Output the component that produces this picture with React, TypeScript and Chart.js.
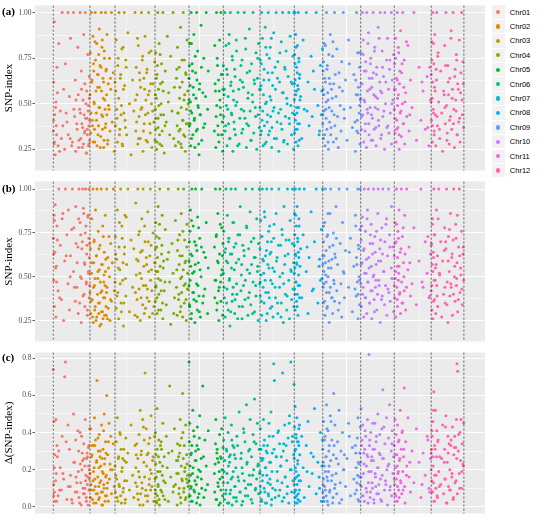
import { useEffect, useRef } from 'react';
import { Chart, registerables } from 'chart.js';

Chart.register(...registerables);

const chromosomes = ['Chr01', 'Chr02', 'Chr03', 'Chr04', 'Chr05', 'Chr06', 'Chr07', 'Chr08', 'Chr09', 'Chr10', 'Chr11', 'Chr12'];
const chrColors = ['#F8766D', '#DE8C00', '#B79F00', '#7CAE00', '#00BA38', '#00C08B', '#00BFC4', '#00B4F0', '#619CFF', '#C77CFF', '#F564E3', '#FF64B0'];
// chromosome lengths (Mb)
const chrLengths = [25.0, 17.1, 27.3, 23.2, 23.4, 25.0, 23.4, 19.4, 25.9, 22.9, 25.2, 22.3];

// SNP positions, % along each chromosome
const snpPos = [
  [0, 1, 2, 3, 4, 5, 7, 8, 10, 13, 15, 19, 22, 24, 28, 31, 33, 37, 40, 41, 44, 47, 52, 55, 56, 60, 61, 64, 67, 68, 70, 73, 74, 76, 79, 80, 81, 83, 85, 86, 87, 88, 90, 91, 93, 94, 96, 97, 98, 99,
    1, 3, 6, 9, 11, 17, 26, 35, 46, 50, 58, 62, 65, 69, 72, 75, 77, 78, 82, 84, 86, 89, 90, 92, 93, 95, 96, 97, 98, 99],
  [0, 2, 3, 6, 7, 9, 12, 13, 15, 17, 18, 21, 22, 25, 27, 28, 31, 33, 34, 37, 39, 40, 43, 45, 46, 49, 51, 52, 55, 57, 59, 61, 62, 65, 67, 68, 71, 73, 76, 78, 80, 83, 86, 89, 93, 97,
    4, 8, 10, 14, 16, 19, 20, 24, 26, 30, 32, 35, 36, 38, 41, 44, 47, 48, 50, 53, 54, 56, 58, 60, 63, 64, 66, 70, 74, 82],
  [0, 1, 3, 4, 6, 7, 9, 10, 12, 14, 15, 17, 19, 21, 23, 25, 27, 29, 32, 36, 40, 44, 47, 50, 52, 53, 55, 57, 58, 60, 61, 63, 64, 66, 67, 69, 70, 72, 73, 75, 77, 78, 80, 82, 84, 86, 88, 90, 92, 95, 97, 99,
    2, 5, 8, 11, 13, 16, 18, 20, 22, 24, 26, 28, 51, 54, 56, 59, 62, 65, 68, 71, 74, 76, 79, 81, 83, 85, 87, 89, 91, 94],
  [0, 1, 2, 3, 5, 6, 8, 9, 11, 12, 14, 16, 17, 19, 21, 23, 24, 27, 30, 33, 36, 39, 43, 46, 50, 53, 57, 60, 63, 65, 66, 68, 69, 71, 72, 74, 75, 77, 78, 80, 81, 83, 84, 86, 87, 89, 90, 92, 94, 97,
    1, 2, 4, 4, 6, 7, 9, 10, 13, 15, 18, 20, 22, 25, 29, 40, 55, 64, 67, 70, 73, 76, 79, 82, 85, 88, 91, 93, 95, 96],
  [0, 1, 2, 4, 5, 6, 8, 9, 11, 12, 14, 15, 17, 19, 20, 22, 24, 25, 27, 29, 31, 33, 35, 37, 40, 43, 46, 50, 54, 56, 74, 75, 77, 78, 80, 81, 83, 84, 86, 87, 89, 90, 92, 93, 95, 96, 98, 99,
    0, 1, 3, 3, 5, 7, 7, 10, 13, 16, 18, 21, 23, 26, 28, 30, 32, 36, 42, 48, 76, 79, 82, 85, 88, 91, 94, 97],
  [0, 1, 3, 4, 5, 7, 8, 10, 11, 13, 14, 16, 18, 19, 21, 22, 24, 26, 27, 29, 31, 33, 35, 37, 40, 43, 46, 49, 51, 53, 55, 57, 59, 61, 63, 65, 67, 69, 71, 73, 75, 77, 79, 81, 83, 85, 87, 89, 91, 93, 95, 96, 98, 99,
    2, 6, 9, 12, 15, 17, 20, 23, 25, 28, 30, 32, 34, 36, 39, 42, 45, 48, 50, 52, 56, 60, 64, 68, 72, 76, 80, 84, 88, 94],
  [0, 1, 2, 3, 5, 6, 7, 9, 10, 12, 13, 15, 16, 18, 20, 22, 24, 26, 28, 30, 32, 34, 36, 38, 40, 42, 45, 47, 50, 52, 55, 57, 60, 62, 64, 66, 68, 70, 72, 74, 76, 78, 80, 82, 84, 86, 88, 90, 92, 94, 95, 96, 98, 99,
    1, 4, 4, 8, 11, 14, 17, 19, 21, 23, 25, 27, 29, 31, 33, 35, 37, 41, 44, 48, 51, 54, 58, 61, 65, 69, 73, 79, 85, 91],
  [0, 1, 1, 2, 3, 4, 5, 6, 7, 8, 9, 10, 11, 12, 13, 14, 15, 16, 18, 19, 22, 26, 31, 35, 42, 48, 52, 59, 63, 71, 77, 83, 87, 92, 95, 99,
    0, 2, 3, 4, 5, 6, 8, 10, 12, 14, 16, 17, 18, 20, 45, 67, 89, 97],
  [0, 1, 2, 3, 4, 6, 7, 8, 10, 11, 12, 14, 15, 17, 18, 20, 21, 23, 24, 26, 28, 29, 31, 32, 35, 37, 39, 41, 43, 46, 48, 50, 52, 54, 57, 60, 64, 68, 73, 78, 82, 86, 88, 89, 91, 92, 93, 94, 96, 97, 98, 99,
    0, 1, 2, 3, 5, 5, 7, 9, 9, 11, 13, 14, 16, 17, 19, 22, 25, 27, 30, 33, 36, 44, 56, 70, 85, 87, 90, 93, 95, 97],
  [0, 1, 2, 4, 5, 6, 8, 9, 11, 12, 14, 15, 17, 18, 20, 21, 23, 25, 26, 28, 30, 31, 33, 35, 37, 38, 40, 42, 44, 46, 48, 51, 52, 54, 57, 58, 60, 63, 64, 66, 68, 71, 72, 74, 77, 78, 80, 83, 84, 86, 88, 91, 92, 94, 96, 98,
    1, 3, 7, 10, 13, 16, 19, 22, 24, 27, 29, 32, 34, 36, 39, 41, 43, 45, 47, 50, 53, 55, 59, 62, 65, 69, 75, 81, 87, 93],
  [0, 1, 2, 3, 4, 5, 6, 7, 8, 9, 10, 12, 13, 14, 16, 17, 19, 20, 22, 23, 25, 27, 28, 31, 34, 37, 40, 44, 48, 53, 60, 67, 72, 78, 84, 89, 94, 98,
    0, 2, 4, 6, 8, 9, 11, 11, 13, 15, 18, 21, 24, 26, 29, 33, 42, 75, 91, 96],
  [0, 1, 2, 3, 4, 5, 6, 8, 9, 10, 11, 13, 14, 16, 17, 19, 20, 23, 26, 29, 32, 35, 38, 41, 43, 45, 47, 49, 51, 53, 55, 57, 59, 61, 63, 65, 67, 69, 71, 73, 75, 77, 79, 81, 84, 86, 88, 90, 93, 95, 97, 99,
    0, 2, 4, 5, 7, 7, 9, 12, 15, 18, 21, 25, 40, 42, 44, 48, 52, 56, 60, 64, 68, 72, 76, 78, 80, 83, 87, 91, 94, 98],
];

// panel (a): SNP-index x100
const snpIndexA = [
  [35, 62, 28, 95, 44, 22, 51, 38, 70, 27, 83, 46, 31, 100, 58, 25, 72, 40, 100, 33, 54, 86, 29, 100, 47, 63, 24, 39, 81, 55, 30, 100, 45, 68, 26, 37, 52, 88, 34, 61, 100, 42, 23, 57, 36, 77, 49, 28, 65, 41,
    41, 29, 48, 33, 56, 24, 38, 45, 31, 27, 43, 52, 36, 26, 47, 31, 58, 39, 28, 44, 35, 50, 23, 42, 33, 46, 27, 38, 53, 30],
  [55, 78, 34, 100, 62, 41, 87, 29, 68, 50, 36, 100, 74, 45, 83, 27, 59, 66, 38, 91, 48, 71, 32, 100, 57, 85, 43, 64, 26, 79, 52, 37, 100, 69, 44, 88, 30, 61, 47, 75, 35, 58, 100, 40, 67, 24,
    45, 63, 38, 72, 51, 29, 84, 57, 41, 66, 33, 77, 48, 59, 26, 70, 44, 81, 36, 53, 62, 30, 75, 47, 39, 68, 55, 28, 49, 64],
  [62, 38, 85, 47, 29, 71, 53, 100, 36, 66, 44, 80, 27, 58, 100, 41, 74, 33, 89, 50, 22, 63, 46, 100, 35, 70, 55, 28, 82, 43, 67, 31, 59, 100, 48, 76, 24, 64, 39, 87, 52, 30, 69, 45, 100, 57, 34, 79, 26, 61, 40, 73,
    57, 42, 75, 33, 64, 49, 28, 81, 45, 60, 37, 70, 52, 40, 86, 31, 63, 47, 74, 35, 58, 44, 67, 29, 55, 78, 39, 61, 50, 46],
  [30, 55, 78, 42, 25, 66, 100, 37, 49, 83, 28, 61, 44, 72, 35, 100, 57, 23, 68, 40, 87, 51, 33, 76, 46, 100, 59, 27, 64, 38, 81, 45, 29, 70, 53, 36, 92, 48, 26, 62, 41, 100, 33, 74, 55, 24, 67, 39, 85, 50,
    47, 36, 64, 53, 29, 71, 42, 58, 33, 77, 50, 27, 62, 44, 38, 56, 31, 69, 45, 35, 59, 28, 74, 41, 52, 32, 66, 47, 39, 57],
  [64, 38, 83, 51, 27, 100, 45, 72, 33, 59, 88, 41, 26, 67, 53, 100, 36, 79, 48, 22, 61, 44, 93, 30, 56, 75, 39, 100, 47, 68, 35, 82, 57, 26, 100, 49, 71, 38, 63, 29, 85, 52, 44, 100, 33, 66, 24, 58,
    52, 71, 39, 60, 46, 83, 31, 68, 55, 42, 76, 35, 63, 49, 28, 58, 44, 70, 37, 54, 61, 43, 75, 33, 57, 48, 66, 40],
  [71, 43, 58, 100, 35, 82, 49, 27, 66, 54, 39, 88, 31, 100, 62, 45, 76, 24, 57, 40, 69, 33, 85, 51, 100, 28, 63, 47, 74, 36, 59, 100, 42, 80, 26, 67, 53, 38, 91, 46, 30, 72, 55, 100, 34, 61, 48, 78, 25, 64, 44, 83, 37, 58,
    55, 38, 69, 47, 83, 31, 60, 44, 74, 52, 36, 65, 49, 79, 27, 58, 42, 71, 34, 62, 46, 86, 39, 56, 68, 30, 51, 63, 43, 75],
  [48, 74, 33, 60, 100, 41, 86, 27, 55, 69, 38, 92, 50, 29, 77, 44, 100, 63, 35, 81, 52, 26, 67, 46, 89, 31, 58, 100, 40, 73, 24, 62, 47, 84, 36, 100, 56, 30, 70, 43, 79, 53, 28, 65, 100, 39, 87, 49, 33, 61, 45, 76, 25, 100,
    58, 35, 72, 46, 63, 28, 81, 51, 40, 67, 33, 75, 54, 43, 86, 37, 60, 48, 70, 31, 64, 45, 78, 39, 56, 29, 69, 50, 42, 62],
  [52, 77, 34, 100, 63, 41, 88, 29, 57, 70, 45, 36, 82, 60, 27, 100, 48, 73, 39, 66, 54, 31, 85, 47, 100, 62, 38, 76, 43, 58, 100, 49, 33, 71, 44, 80,
    61, 44, 72, 36, 55, 81, 48, 67, 39, 58, 75, 30, 64, 52, 46, 68, 35, 57],
  [44, 68, 31, 55, 83, 27, 62, 47, 100, 36, 71, 52, 25, 64, 40, 88, 33, 58, 46, 76, 29, 61, 100, 38, 54, 80, 43, 26, 67, 49, 35, 73, 57, 100, 42, 63, 30, 85, 48, 37, 66, 24, 55, 100, 41, 78, 34, 59, 45, 70, 28, 52,
    39, 58, 73, 46, 64, 33, 82, 51, 42, 69, 56, 29, 77, 48, 61, 37, 53, 84, 44, 66, 31, 59, 47, 72, 40, 63, 35, 55, 78, 49],
  [53, 78, 36, 61, 100, 44, 85, 29, 68, 51, 39, 73, 26, 100, 57, 45, 89, 33, 64, 48, 75, 30, 59, 42, 100, 67, 36, 81, 54, 27, 70, 47, 92, 38, 62, 100, 31, 56, 79, 43, 65, 25, 100, 50, 74, 37, 86, 58, 34, 69, 45, 100, 28, 63, 52, 77,
    61, 43, 77, 52, 35, 68, 47, 83, 39, 58, 72, 44, 64, 30, 55, 79, 48, 37, 66, 53, 41, 86, 57, 33, 70, 46, 62, 38, 74, 50],
  [47, 72, 34, 58, 86, 29, 64, 41, 100, 53, 37, 78, 25, 61, 45, 90, 32, 67, 50, 100, 39, 74, 28, 56, 43, 82, 35, 63, 48, 100, 30, 70, 41, 57, 36, 65, 27, 52,
    58, 42, 75, 36, 63, 49, 81, 55, 33, 68, 46, 72, 39, 59, 51, 84, 44, 62, 37, 70],
  [66, 41, 84, 53, 29, 100, 47, 72, 35, 59, 88, 44, 27, 63, 100, 38, 76, 51, 31, 68, 45, 24, 57, 82, 39, 100, 49, 34, 71, 55, 28, 64, 43, 90, 36, 58, 100, 47, 26, 69, 52, 77, 33, 61, 40, 85, 29, 56, 100, 44, 73, 37,
    51, 74, 38, 62, 45, 83, 33, 57, 69, 43, 78, 36, 55, 48, 71, 30, 62, 41, 86, 53, 39, 65, 46, 74, 33, 58, 42, 67, 52, 61],
];

// panel (b): SNP-index x100
const snpIndexB = [
  [72, 48, 85, 33, 64, 91, 27, 56, 79, 42, 100, 68, 37, 83, 25, 59, 100, 74, 46, 88, 31, 62, 100, 53, 78, 36, 90, 44, 67, 29, 100, 81, 50, 24, 70, 100, 39, 86, 58, 33, 75, 100, 47, 63, 28, 84, 52, 100, 38, 69,
    63, 82, 55, 47, 71, 38, 86, 62, 50, 77, 44, 69, 58, 83, 35, 74, 49, 66, 89, 40, 57, 79, 46, 68, 31, 85, 53, 72, 61, 45],
  [41, 66, 29, 52, 83, 37, 100, 24, 58, 71, 45, 33, 88, 62, 27, 100, 49, 76, 35, 54, 22, 68, 41, 100, 30, 57, 79, 26, 47, 64, 38, 85, 53, 28, 100, 44, 61, 32, 73, 50, 25, 69, 36, 58, 100, 42,
    36, 58, 27, 44, 70, 31, 49, 25, 62, 40, 53, 29, 66, 35, 47, 23, 57, 42, 30, 73, 38, 51, 28, 45, 60, 33, 41, 26, 55, 37],
  [47, 73, 32, 60, 88, 41, 26, 67, 54, 100, 35, 79, 48, 22, 63, 85, 39, 57, 100, 30, 71, 44, 66, 28, 92, 51, 37, 100, 59, 43, 76, 25, 64, 49, 83, 34, 100, 56, 29, 70, 45, 61, 38, 87, 53, 27, 100, 68, 42, 75, 33, 58,
    63, 39, 55, 81, 46, 30, 72, 58, 35, 67, 49, 84, 41, 60, 27, 74, 52, 38, 65, 45, 79, 32, 57, 43, 70, 36, 62, 48, 54, 29],
  [58, 36, 81, 45, 67, 29, 53, 90, 40, 72, 100, 48, 31, 63, 85, 26, 55, 42, 77, 34, 60, 100, 47, 23, 69, 52, 38, 82, 44, 28, 65, 100, 37, 57, 74, 30, 49, 86, 41, 62, 27, 54, 100, 35, 71, 46, 59, 25, 80, 43,
    66, 44, 53, 73, 38, 61, 49, 31, 80, 56, 42, 68, 35, 59, 47, 64, 29, 54, 71, 40, 62, 33, 50, 76, 45, 58, 37, 67, 43, 52],
  [45, 70, 33, 88, 56, 26, 100, 62, 41, 79, 37, 53, 24, 100, 68, 46, 31, 84, 58, 39, 72, 27, 50, 100, 35, 64, 43, 81, 29, 55, 67, 38, 100, 48, 74, 31, 59, 86, 42, 25, 63, 100, 47, 36, 78, 54, 28, 69,
    59, 34, 76, 48, 63, 29, 82, 52, 41, 70, 57, 36, 65, 45, 78, 30, 54, 67, 39, 61, 48, 73, 35, 58, 44, 80, 51, 62],
  [52, 76, 38, 64, 27, 100, 59, 43, 85, 31, 70, 48, 22, 63, 100, 55, 36, 81, 44, 67, 29, 100, 58, 40, 74, 33, 90, 51, 26, 68, 45, 62, 37, 100, 79, 54, 28, 66, 41, 87, 34, 57, 100, 47, 72, 30, 61, 39, 83, 53, 25, 69, 100, 46,
    44, 66, 35, 58, 72, 49, 30, 63, 40, 81, 54, 37, 69, 46, 26, 60, 74, 42, 57, 33, 65, 48, 78, 38, 52, 70, 29, 61, 45, 56],
  [66, 39, 82, 51, 28, 73, 100, 44, 59, 35, 87, 48, 62, 25, 100, 70, 41, 55, 79, 32, 64, 100, 46, 27, 72, 53, 38, 86, 61, 29, 100, 44, 68, 35, 77, 52, 24, 90, 57, 40, 71, 31, 100, 63, 48, 26, 82, 54, 37, 69, 100, 43, 58, 33,
    47, 73, 36, 60, 52, 84, 41, 65, 29, 57, 76, 38, 63, 48, 70, 33, 55, 80, 44, 59, 35, 68, 50, 27, 74, 46, 62, 39, 71, 53],
  [68, 43, 86, 55, 31, 100, 62, 47, 79, 36, 57, 90, 40, 72, 28, 64, 51, 83, 100, 45, 66, 38, 74, 100, 53, 29, 61, 87, 42, 70, 100, 35, 56, 48, 77, 100,
    52, 74, 40, 63, 85, 47, 58, 33, 70, 45, 61, 79, 38, 56, 67, 43, 60, 49],
  [57, 35, 79, 46, 62, 28, 100, 51, 41, 73, 33, 86, 55, 24, 67, 44, 100, 38, 60, 29, 75, 48, 36, 63, 90, 42, 57, 31, 100, 69, 46, 27, 81, 53, 38, 65, 100, 44, 72, 30, 56, 85, 39, 61, 47, 100, 26, 68, 50, 34, 77, 100,
    62, 44, 70, 53, 36, 81, 58, 47, 65, 32, 74, 50, 59, 41, 86, 55, 38, 68, 46, 61, 72, 35, 52, 64, 43, 79, 57, 40, 66, 48],
  [46, 71, 33, 58, 84, 40, 65, 27, 100, 52, 76, 38, 60, 29, 88, 47, 100, 55, 35, 69, 42, 80, 26, 63, 50, 100, 37, 73, 44, 57, 31, 86, 100, 48, 66, 24, 59, 78, 39, 100, 53, 34, 70, 45, 83, 28, 62, 100, 41, 74, 36, 55, 90, 49, 67, 30,
    57, 79, 44, 66, 38, 52, 83, 47, 61, 35, 74, 56, 42, 69, 51, 30, 64, 48, 76, 40, 59, 45, 71, 37, 63, 53, 80, 43, 67, 49],
  [62, 38, 81, 49, 27, 70, 100, 44, 56, 33, 76, 52, 88, 40, 64, 29, 100, 47, 73, 35, 58, 42, 85, 31, 100, 54, 67, 39, 46, 78, 34, 59, 100, 44, 70, 52, 38, 63,
    45, 69, 53, 80, 37, 61, 48, 72, 56, 41, 66, 35, 78, 50, 63, 44, 58, 47, 73, 39],
  [42, 69, 31, 57, 83, 26, 64, 100, 48, 37, 74, 55, 29, 88, 45, 62, 33, 100, 51, 70, 27, 59, 40, 78, 35, 66, 100, 47, 24, 73, 53, 39, 86, 44, 61, 28, 71, 100, 50, 36, 80, 45, 58, 30, 67, 100, 41, 55, 76, 34, 63, 48,
    68, 45, 80, 53, 36, 61, 74, 48, 57, 39, 83, 52, 65, 44, 70, 34, 59, 77, 46, 63, 40, 56, 72, 49, 85, 37, 62, 51, 43, 67],
];

// panel (c): delta SNP-index x100
const deltaIndex = [
  [74, 12, 46, 8, 28, 3, 47, 18, 33, 6, 30, 21, 9, 38, 15, 70, 78, 4, 44, 11, 31, 17, 2, 50, 24, 8, 36, 13, 41, 19, 5, 40, 23, 1, 29, 25, 10, 34, 7, 22, 47, 14, 3, 26, 27, 16, 32, 9, 20, 42,
    6, 21, 14, 3, 27, 9, 18, 35, 11, 4, 24, 16, 8, 30, 2, 13, 38, 20, 7, 26, 10, 17, 5, 29, 12, 1, 22, 33, 15, 9],
  [18, 5, 42, 27, 9, 33, 14, 33, 2, 21, 48, 11, 36, 7, 25, 68, 16, 30, 4, 39, 13, 27, 22, 8, 44, 19, 1, 31, 12, 50, 26, 6, 35, 17, 60, 10, 28, 3, 45, 15, 23, 38, 7, 20, 34, 11,
    12, 28, 4, 19, 9, 33, 15, 2, 24, 7, 37, 11, 21, 5, 30, 14, 1, 26, 8, 18, 41, 10, 23, 3, 16, 29, 6, 13, 35, 20],
  [22, 8, 35, 15, 48, 3, 27, 12, 40, 6, 31, 19, 26, 10, 25, 2, 37, 14, 29, 9, 44, 17, 5, 33, 21, 28, 11, 26, 4, 39, 16, 52, 7, 30, 13, 47, 1, 24, 36, 72, 9, 42, 28, 6, 34, 15, 20, 49, 11, 27, 3, 38,
    17, 5, 26, 11, 39, 2, 21, 8, 31, 14, 4, 24, 13, 34, 7, 19, 1, 28, 10, 43, 16, 6, 22, 3, 29, 12, 37, 9, 18, 25],
  [15, 40, 7, 28, 2, 53, 19, 11, 36, 4, 24, 33, 9, 31, 17, 45, 6, 27, 13, 38, 21, 3, 65, 16, 30, 8, 42, 12, 25, 1, 34, 18, 27, 10, 29, 47, 5, 22, 37, 14, 61, 26, 8, 33, 19, 4, 44, 15, 23, 11,
    9, 23, 3, 16, 31, 6, 12, 27, 1, 19, 35, 8, 22, 14, 4, 29, 11, 18, 25, 7, 33, 2, 15, 40, 10, 21, 5, 28, 13, 17],
  [78, 6, 45, 17, 28, 11, 33, 3, 52, 21, 9, 38, 14, 30, 25, 2, 43, 16, 31, 7, 49, 19, 26, 10, 65, 5, 36, 22, 12, 41, 18, 8, 34, 47, 4, 29, 26, 13, 24, 1, 39, 15, 27, 9, 42, 20, 6, 32,
    14, 35, 6, 22, 10, 29, 3, 18, 41, 8, 25, 12, 33, 5, 20, 37, 1, 15, 27, 9, 23, 4, 31, 11, 19, 2, 26, 16],
  [13, 36, 4, 25, 48, 9, 31, 18, 2, 40, 22, 27, 7, 28, 15, 44, 1, 33, 19, 32, 11, 26, 5, 38, 16, 51, 8, 29, 21, 3, 42, 14, 35, 10, 55, 24, 6, 30, 17, 47, 12, 27, 2, 39, 20, 58, 9, 34, 15, 45, 23, 7, 31, 18,
    19, 7, 30, 13, 2, 24, 9, 36, 16, 5, 28, 11, 21, 3, 33, 14, 8, 26, 1, 18, 40, 6, 23, 12, 31, 4, 17, 35, 10, 22],
  [19, 42, 8, 31, 3, 25, 14, 26, 47, 10, 36, 21, 2, 30, 17, 33, 7, 45, 24, 12, 51, 4, 29, 38, 77, 68, 9, 27, 19, 40, 6, 34, 22, 27, 13, 72, 30, 5, 44, 16, 33, 25, 11, 37, 2, 49, 20, 78, 8, 35, 38, 14, 28, 66,
    11, 26, 4, 17, 33, 8, 21, 2, 29, 13, 6, 38, 15, 24, 1, 19, 10, 31, 5, 27, 14, 41, 9, 22, 3, 34, 16, 7, 45, 20],
  [26, 8, 43, 15, 54, 2, 31, 19, 37, 6, 48, 12, 35, 23, 4, 35, 17, 42, 9, 28, 14, 38, 21, 5, 33, 46, 11, 29, 18, 53, 7, 24, 16, 40, 3, 36,
    12, 30, 5, 21, 9, 39, 16, 2, 25, 7, 33, 14, 44, 3, 19, 27, 10, 22],
  [31, 12, 46, 5, 22, 38, 9, 27, 55, 16, 3, 41, 19, 33, 8, 49, 25, 14, 36, 2, 28, 61, 10, 44, 18, 7, 35, 23, 52, 13, 30, 4, 40, 20, 28, 11, 26, 45, 6, 32, 15, 33, 21, 9, 37, 17, 48, 24, 3, 29, 12, 43,
    8, 24, 15, 3, 36, 11, 19, 27, 6, 42, 14, 1, 30, 22, 9, 46, 17, 5, 33, 12, 26, 2, 20, 38, 7, 29, 13, 4, 23, 16],
  [24, 53, 11, 36, 6, 44, 18, 29, 3, 31, 84, 38, 22, 8, 47, 27, 13, 82, 33, 5, 40, 19, 27, 10, 31, 25, 2, 45, 16, 35, 7, 50, 21, 12, 39, 28, 4, 42, 17, 63, 26, 9, 34, 14, 48, 20, 1, 37, 23, 55, 11, 30, 6, 41, 18, 27,
    16, 33, 6, 23, 41, 10, 28, 2, 19, 36, 8, 25, 13, 45, 4, 31, 18, 11, 38, 21, 7, 29, 15, 3, 26, 43, 12, 22, 9, 34],
  [33, 12, 47, 21, 6, 39, 15, 28, 3, 44, 18, 9, 36, 25, 52, 14, 31, 7, 41, 19, 27, 64, 11, 35, 22, 48, 16, 8, 30, 13, 42, 24, 5, 29, 17, 38, 10, 26,
    15, 7, 28, 3, 22, 11, 35, 19, 5, 26, 13, 40, 9, 31, 2, 17, 24, 12, 36, 8],
  [29, 31, 14, 38, 8, 46, 22, 62, 3, 33, 17, 52, 10, 27, 41, 5, 35, 19, 27, 12, 26, 44, 7, 31, 15, 49, 2, 24, 38, 11, 34, 20, 9, 36, 16, 43, 4, 28, 32, 13, 32, 47, 77, 73, 39, 18, 40, 25, 10, 34, 23, 45,
    20, 41, 8, 27, 13, 52, 3, 31, 17, 6, 36, 11, 24, 15, 43, 2, 29, 9, 33, 18, 5, 38, 14, 26, 7, 30, 10, 47, 19, 22],
];

const xGridMb = [0, 50, 100, 150, 200, 250];
const indexMajor = [0.25, 0.5, 0.75, 1.0];
const indexMinor = [0.375, 0.625, 0.875];
const deltaMajor = [0, 0.2, 0.4, 0.6, 0.8];
const deltaMinor = [0.1, 0.3, 0.5, 0.7];

const chrStarts = chrLengths.map((_, i) => chrLengths.slice(0, i).reduce((s, v) => s + v, 0));
const chrBounds = [...chrStarts, chrStarts[11] + chrLengths[11]];

const W = 490;

interface PanelSpec {
  tag: string;
  title: string;
  values: number[][];
  min: number;
  max: number;
  majors: number[];
  minors: number[];
  digits: number;
  top: number;
  height: number;
  padTop: number;
  padBottom: number;
}

const panels: PanelSpec[] = [
  { tag: '(a)', title: 'SNP-index', values: snpIndexA, min: 0.134, max: 1.039, majors: indexMajor, minors: indexMinor, digits: 2, top: 0, height: 176, padTop: 5, padBottom: 2 },
  { tag: '(b)', title: 'SNP-index', values: snpIndexB, min: 0.131, max: 1.043, majors: indexMajor, minors: indexMinor, digits: 2, top: 176, height: 171, padTop: 1, padBottom: 1 },
  { tag: '(c)', title: 'Δ(SNP-index)', values: deltaIndex, min: -0.036, max: 0.831, majors: deltaMajor, minors: deltaMinor, digits: 1, top: 347, height: 172, padTop: 2, padBottom: 3 },
];

function Panel({ spec }: { spec: PanelSpec }) {
  const canvasRef = useRef<HTMLCanvasElement>(null);

  useEffect(() => {
    if (!canvasRef.current) return;
    const isMajor = (v: number) => spec.majors.some((m) => Math.abs(m - v) < 1e-6);
    const yTicks = [...spec.majors, ...spec.minors].sort((a, b) => a - b);

    const decor = {
      id: 'decor',
      beforeDraw(chart: any) {
        const { ctx, chartArea: a } = chart;
        ctx.save();
        ctx.fillStyle = '#EBEBEB';
        ctx.fillRect(a.left, a.top, a.right - a.left, a.bottom - a.top);
        ctx.restore();
      },
      afterDatasetsDraw(chart: any) {
        const { ctx, chartArea: a, scales } = chart;
        ctx.save();
        ctx.strokeStyle = '#2b2b2b';
        ctx.lineWidth = 0.7;
        ctx.setLineDash([2.2, 1.8]);
        chrBounds.forEach((b) => {
          const x = scales.x.getPixelForValue(b);
          ctx.beginPath();
          ctx.moveTo(x, a.top);
          ctx.lineTo(x, a.bottom);
          ctx.stroke();
        });
        ctx.restore();
      },
      afterDraw(chart: any) {
        const { ctx, scales } = chart;
        const y = scales.y.getPixelForValue(spec.majors[spec.majors.length - 1]);
        ctx.save();
        ctx.fillStyle = '#000';
        ctx.font = 'bold 11px "Liberation Serif"';
        ctx.textAlign = 'left';
        ctx.textBaseline = 'middle';
        ctx.fillText(spec.tag, 2, y);
        ctx.restore();
      },
    };

    const chart = new Chart(canvasRef.current, {
      type: 'scatter',
      data: {
        datasets: chromosomes.map((name, i) => ({
          label: name,
          data: snpPos[i]
            .map((p, j) => ({
              x: chrStarts[i] + (p / 100) * chrLengths[i],
              y: spec.values[i][j] / 100,
            }))
            .filter((d) => Number.isFinite(d.y)),
          backgroundColor: chrColors[i],
          borderWidth: 0,
          pointRadius: 1.5,
          pointHoverRadius: 1.5,
        })),
      },
      options: {
        responsive: false,
        animation: false,
        events: [],
        layout: { padding: { top: spec.padTop, bottom: spec.padBottom, left: 0, right: 5 } },
        plugins: { legend: { display: false }, tooltip: { enabled: false } },
        scales: {
          x: {
            type: 'linear',
            min: -12.5,
            max: 294.5,
            border: { display: false },
            ticks: { display: false },
            grid: {
              color: '#FFFFFF',
              lineWidth: (c: any) => (c.tick && c.tick.value % 100 === 0 ? 1 : 0.5),
              drawTicks: false,
            },
            afterBuildTicks: (s: any) => {
              s.ticks = xGridMb.map((v) => ({ value: v }));
            },
            afterFit: (s: any) => {
              s.height = 0;
            },
          },
          y: {
            type: 'linear',
            min: spec.min,
            max: spec.max,
            border: { display: false },
            afterBuildTicks: (s: any) => {
              s.ticks = yTicks.map((v) => ({ value: v }));
            },
            afterFit: (s: any) => {
              s.width = 35;
            },
            ticks: {
              autoSkip: false,
              padding: 1,
              color: '#4D4D4D',
              font: { family: 'Liberation Serif', size: 7.5 },
              callback: (v: any) => (isMajor(Number(v)) ? Number(v).toFixed(spec.digits) : ''),
            },
            grid: {
              color: '#FFFFFF',
              lineWidth: (c: any) => (c.tick && isMajor(c.tick.value) ? 1 : 0.5),
              tickLength: 2.5,
              tickWidth: 0.8,
              tickColor: (c: any) => (c.tick && isMajor(c.tick.value) ? '#333333' : 'rgba(0,0,0,0)'),
            },
            title: {
              display: true,
              text: spec.title,
              color: '#000000',
              font: { family: 'Liberation Serif', size: 11 },
              padding: { top: 3, bottom: 0 },
            },
          },
        },
      },
      plugins: [decor],
    });

    return () => chart.destroy();
  }, [spec]);

  return (
    <canvas
      ref={canvasRef}
      width={W}
      height={spec.height}
      style={{ position: 'absolute', left: 0, top: spec.top, width: W, height: spec.height }}
    />
  );
}

export default function App() {
  return (
    <div style={{ position: 'absolute', left: 0, top: 0, width: 542, height: 519, background: '#FFFFFF' }}>
      {panels.map((p) => (
        <Panel key={p.tag} spec={p} />
      ))}
      <div style={{ position: 'absolute', left: 491.5, top: 4.8 }}>
        {chromosomes.map((name, i) => (
          <div key={name} style={{ display: 'flex', alignItems: 'center', height: 14.43 }}>
            <div
              style={{
                width: 13.3,
                height: 13.3,
                background: '#F2F2F2',
                display: 'flex',
                alignItems: 'center',
                justifyContent: 'center',
              }}
            >
              <div style={{ width: 4.4, height: 4.4, borderRadius: '50%', background: chrColors[i] }} />
            </div>
            <span style={{ marginLeft: 5, fontFamily: '"Liberation Sans", Arial, sans-serif', fontSize: 7.5, color: '#000' }}>
              {name}
            </span>
          </div>
        ))}
      </div>
    </div>
  );
}
